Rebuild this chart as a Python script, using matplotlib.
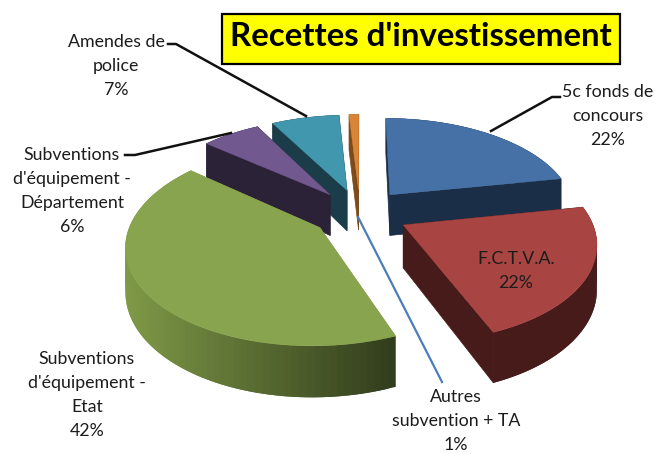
# Exploded 3D pie, drawn by hand because matplotlib has no perspective pie
import numpy as np
import matplotlib
matplotlib.use('Agg')
import matplotlib.pyplot as plt
from matplotlib.colors import to_rgb
from matplotlib.patches import Rectangle

plt.rcParams['font.family'] = ['Lato', 'DejaVu Sans']

title = "Recettes d'investissement"
names = ['5c fonds de\nconcours', 'F.C.T.V.A.', "Subventions\nd'équipement -\nEtat",
         "Subventions\nd'équipement -\nDépartement", 'Amendes de\npolice', 'Autres\nsubvention + TA']
values = [22, 22, 42, 6, 7, 1]
top_colors = ['#4571a6', '#a84441', '#89a44e', '#71588f', '#4097ae', '#da8436']
side_left = ['#1b2e47', '#461b1a', '#7f9a47', '#2c2238', '#1a3d49', '#7d4a1c']
side_right = ['#1b2e47', '#461b1a', '#323d1c', '#2c2238', '#1a3d49', '#7d4a1c']
label_pos = [(608, 116), (516, 271), (87, 395), (72, 191), (116, 66), (456, 421)]
draw_order = [5, 4, 3, 0, 2, 1]

# projection settings, in pixels of the 666x454 picture
cx, cy = 360, 213
rx, ry = 186, 94
persp = 0.16
explode = 0.26
depth = 42


def project(u, v, z=0.0):
    s = 1.0 / (1.0 - persp * v)
    return cx + rx * u * s, cy + (ry * v + depth * z) * s


def wedge_outline(start, stop):
    # angles clockwise from 12 o'clock, v points at the viewer
    mid = (start + stop) / 2
    u0 = explode * np.sin(mid)
    v0 = -explode * np.cos(mid)
    a = np.linspace(start, stop, 80)
    return u0, v0, a, u0 + np.sin(a), v0 - np.cos(a)


def draw_wedge(ax, start, stop, i):
    u0, v0, a, u, v = wedge_outline(start, stop)
    # radial faces
    for ue, ve in sorted([(u[0], v[0]), (u[-1], v[-1])], key=lambda p: p[1]):
        x1, y1 = project(u0, v0)
        x2, y2 = project(ue, ve)
        x3, y3 = project(ue, ve, 1)
        x4, y4 = project(u0, v0, 1)
        ax.fill([x1, x2, x3, x4], [y1, y2, y3, y4], color=side_left[i], lw=0.5, zorder=2)
    # rim, one strip per step so the shading can change along it
    # strips overlap the next one by a step, otherwise the seams show
    xl, yl = project(u, v)
    xb, yb = project(u, v, 1)
    c1 = np.array(to_rgb(side_left[i]))
    c2 = np.array(to_rgb(side_right[i]))
    lo, hi = 125.0, 395.0
    n = len(a) - 1
    for k in range(n):
        e = min(k + 2, n)
        f = np.clip((xl[k] - lo) / (hi - lo), 0, 1)
        ax.fill([xl[k], xl[e], xb[e], xb[k]], [yl[k], yl[e], yb[e], yb[k]],
                color=c1 + (c2 - c1) * f, lw=0, zorder=2)
    # top
    xa, ya = project(u0, v0)
    ax.fill(np.r_[xa, xl], np.r_[ya, yl], color=top_colors[i], lw=0.3, zorder=2)


def main():
    fig = plt.figure(figsize=(6.66, 4.54), dpi=100)
    ax = fig.add_axes([0, 0, 1, 1])
    ax.set_xlim(0, 666)
    ax.set_ylim(454, 0)
    ax.axis('off')

    edges = np.r_[0, np.cumsum(values)] / float(sum(values)) * 2 * np.pi
    for i in draw_order:
        draw_wedge(ax, edges[i], edges[i + 1], i)

    # leader lines
    ax.plot([560, 552, 491], [97, 97, 131], color='#111111', lw=1.8, zorder=3)
    ax.plot([168, 176, 306], [44, 44, 116], color='#111111', lw=1.8, zorder=3)
    ax.plot([125, 135, 231], [155, 155, 133], color='#111111', lw=1.8, zorder=3)
    ax.plot([358, 442], [217, 382], color='#4a7ebb', lw=1.6, zorder=3)

    for i, name in enumerate(names):
        ax.text(label_pos[i][0], label_pos[i][1], '%s\n%d%%' % (name, values[i]),
                ha='center', va='center', fontsize=12.8, color='#1c1c1c', linespacing=1.6, zorder=4)

    ax.add_patch(Rectangle((222, 14), 398, 50, fc='#ffff00', ec='black', lw=1.6, zorder=5))
    ax.text(421, 37, title, ha='center', va='center', fontsize=23.8, fontweight='bold', color='black', zorder=6)

    fig.savefig('out.png', dpi=100, facecolor='white')


if __name__ == '__main__':
    main()
